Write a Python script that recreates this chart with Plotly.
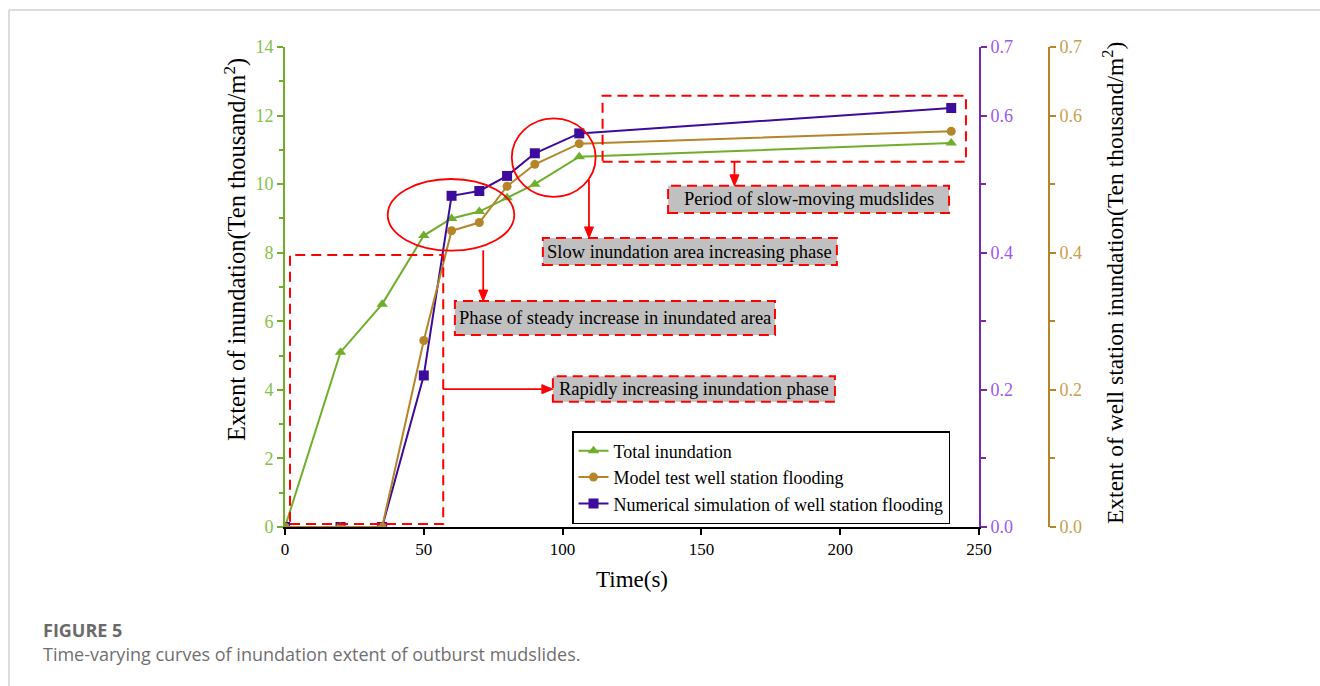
import plotly.graph_objects as go

# ---------------- data ----------------
time_total = [0, 20, 35, 50, 60, 70, 80, 90, 106, 240]
total_inundation = [0, 5.1, 6.5, 8.5, 9.0, 9.2, 9.6, 10.0, 10.8, 11.2]

time_station = [0, 20, 35, 50, 60, 70, 80, 90, 106, 240]
model_test = [0, 0, 0, 0.272, 0.432, 0.444, 0.497, 0.529, 0.559, 0.577]
numerical_sim = [0, 0, 0, 0.221, 0.483, 0.490, 0.512, 0.545, 0.574, 0.611]

series_names = ["Total inundation", "Model test well station flooding",
                "Numerical simulation of well station flooding"]
phase_labels = ["Phase of steady increase in inundated area",
                "Rapidly increasing inundation phase",
                "Slow inundation area increasing phase",
                "Period of slow-moving mudslides"]
right_tickvals = [0, 0.2, 0.4, 0.6, 0.7]
right_ticktext = ["0.0", "0.2", "0.4", "0.6", "0.7"]

# ---------------- styles ----------------
W, H = 1320, 686
GREEN = "#6fae2a"
GREEN_TXT = "#86c04a"
GOLD = "#b5852a"
GOLD_TXT = "#c9a04c"
PURPLE_LINE = "#3c0c9c"
PURPLE_AX = "#7a2aa8"
PURPLE_TXT = "#9a58f2"
RED = "#ff0000"
SERIF = "Liberation Serif, Times New Roman, serif"

fig = go.Figure()
fig.add_trace(go.Scatter(x=time_total, y=total_inundation, name=series_names[0],
                         mode="lines+markers", yaxis="y",
                         line=dict(color=GREEN, width=2),
                         marker=dict(symbol="triangle-up", size=10, color=GREEN)))
fig.add_trace(go.Scatter(x=time_station, y=model_test, name=series_names[1],
                         mode="lines+markers", yaxis="y3",
                         line=dict(color=GOLD, width=2),
                         marker=dict(symbol="circle", size=9, color=GOLD)))
fig.add_trace(go.Scatter(x=time_station, y=numerical_sim, name=series_names[2],
                         mode="lines+markers", yaxis="y2",
                         line=dict(color=PURPLE_LINE, width=2),
                         marker=dict(symbol="square", size=10, color=PURPLE_LINE)))

x0p, x1p = 285 / W, 979 / W
y0p, y1p = (H - 527) / H, (H - 47) / H
PX_X = (979 - 285) / 250.0   # pixels per x unit
PX_Y = (527 - 47) / 14.0     # pixels per left-y unit

fig.update_layout(
    width=W, height=H,
    margin=dict(l=0, r=0, t=0, b=0, autoexpand=False),
    paper_bgcolor="white", plot_bgcolor="white",
    font=dict(family=SERIF, color="black"),
    xaxis=dict(domain=[x0p, x1p], range=[0, 250], dtick=50, showgrid=False, zeroline=False,
               automargin=False,
               showline=True, linecolor="black", linewidth=2,
               ticks="outside", ticklen=6, tickwidth=2, tickcolor="black",
               tickfont=dict(size=17, color="black", family=SERIF),
               title=dict(text="Time(s)", font=dict(size=23, family=SERIF), standoff=12)),
    yaxis=dict(domain=[y0p, y1p], range=[0, 14], dtick=2, showgrid=False, zeroline=False,
               automargin=False,
               showline=True, linecolor=GREEN, linewidth=2,
               ticks="outside", ticklen=6, tickwidth=2, tickcolor=GREEN,
               minor=dict(dtick=1, ticks="outside", ticklen=4, tickwidth=2, tickcolor=GREEN),
               tickfont=dict(size=18, color=GREEN_TXT, family=SERIF)),
    yaxis2=dict(overlaying="y", anchor="x", side="right", range=[0, 0.7],
                automargin=False,
                tickvals=right_tickvals, ticktext=right_ticktext,
                showgrid=False, zeroline=False, showline=True, linecolor=PURPLE_AX, linewidth=2,
                ticks="outside", ticklen=6, tickwidth=2, tickcolor=PURPLE_AX,
                minor=dict(tickvals=[0.1, 0.3, 0.5], ticks="outside", ticklen=5,
                           tickwidth=2, tickcolor=PURPLE_AX),
                tickfont=dict(size=18, color=PURPLE_TXT, family=SERIF)),
    yaxis3=dict(overlaying="y", anchor="free", position=1049 / W, side="right", range=[0, 0.7],
                automargin=False,
                tickvals=right_tickvals, ticktext=right_ticktext,
                showgrid=False, zeroline=False, showline=True, linecolor=GOLD, linewidth=2,
                ticks="outside", ticklen=6, tickwidth=2, tickcolor=GOLD,
                minor=dict(tickvals=[0.1, 0.3, 0.5], ticks="outside", ticklen=5,
                           tickwidth=2, tickcolor=GOLD),
                tickfont=dict(size=18, color=GOLD_TXT, family=SERIF)),
    legend=dict(x=572 / W, y=(H - 431) / H, xanchor="left", yanchor="top",
                bgcolor="white", bordercolor="black", borderwidth=1.5,
                font=dict(size=18, family=SERIF, color="black"),
                tracegroupgap=0),
    showlegend=True,
)

DASH = "10px,6px"
shapes = []
# dashed region rectangles
shapes.append(dict(type="rect", xref="x", yref="y", x0=1.8, x1=57.0, y0=0.09, y1=7.93,
                   line=dict(color=RED, width=2, dash=DASH)))
shapes.append(dict(type="rect", xref="x", yref="y", x0=114.4, x1=245.3, y0=10.65, y1=12.58,
                   line=dict(color=RED, width=2, dash=DASH)))
# ellipses
shapes.append(dict(type="circle", xref="x", yref="y", x0=37.0, x1=82.6, y0=8.06, y1=10.15,
                   line=dict(color=RED, width=1.8)))
shapes.append(dict(type="circle", xref="x", yref="y", x0=81.7, x1=111.9, y0=9.63, y1=11.92,
                   line=dict(color=RED, width=1.8)))
# label boxes (x0, x1, y0, y1)
boxes = [(61.2, 176.5, 5.60, 6.59),
         (96.5, 198.1, 3.65, 4.40),
         (92.9, 198.8, 7.64, 8.43),
         (138.0, 239.2, 9.16, 9.95)]
for (bx0, bx1, by0, by1) in boxes:
    shapes.append(dict(type="rect", xref="x", yref="y", x0=bx0, x1=bx1, y0=by0, y1=by1,
                       fillcolor="#c0c0c0", line=dict(color=RED, width=2, dash=DASH)))

# arrows: (tip_x, tip_y, tail_x, tail_y)
arrows = [(71.4, 6.59, 71.4, 8.07),
          (109.5, 8.43, 109.5, 10.12),
          (161.9, 9.95, 161.9, 10.65),
          (96.5, 4.02, 57.0, 4.02)]
HEAD_L, HEAD_W = 11.0, 4.5  # pixels
for (tx, ty, sx, sy) in arrows:
    if tx == sx:  # vertical (downward)
        dy = HEAD_L / PX_Y
        hw = HEAD_W / PX_X
        base_y = ty + dy
        shapes.append(dict(type="line", xref="x", yref="y", x0=sx, y0=sy, x1=tx, y1=base_y,
                           line=dict(color=RED, width=1.8)))
        path = f"M {tx},{ty} L {tx - hw},{base_y} L {tx + hw},{base_y} Z"
    else:  # horizontal (rightward)
        dx = HEAD_L / PX_X
        hh = HEAD_W / PX_Y
        base_x = tx - dx
        shapes.append(dict(type="line", xref="x", yref="y", x0=sx, y0=sy, x1=base_x, y1=ty,
                           line=dict(color=RED, width=1.8)))
        path = f"M {tx},{ty} L {base_x},{ty - hh} L {base_x},{ty + hh} Z"
    shapes.append(dict(type="path", xref="x", yref="y", path=path,
                       fillcolor=RED, line=dict(color=RED, width=1)))

# page frame lines
shapes.append(dict(type="line", xref="paper", yref="paper", x0=9 / W, x1=1, y0=1 - 10 / H, y1=1 - 10 / H,
                   line=dict(color="#d0d0d0", width=1.5)))
shapes.append(dict(type="line", xref="paper", yref="paper", x0=9 / W, x1=9 / W, y0=0, y1=1 - 10 / H,
                   line=dict(color="#d0d0d0", width=1.5)))

annotations = []
for (bx0, bx1, by0, by1), txt in zip(boxes, phase_labels):
    annotations.append(dict(x=(bx0 + bx1) / 2, y=(by0 + by1) / 2, xref="x", yref="y",
                            text=txt, showarrow=False,
                            font=dict(size=18.5, family=SERIF, color="black")))
# axis titles (placed as in the reference)
annotations.append(dict(x=236 / W, y=(H - 250) / H, xref="paper", yref="paper",
                        xanchor="center", yanchor="middle", textangle=-90, showarrow=False,
                        text="Extent of inundation(Ten thousand/m<sup>2</sup>)",
                        font=dict(size=24.5, family=SERIF, color="black")))
annotations.append(dict(x=1113 / W, y=(H - 283) / H, xref="paper", yref="paper",
                        xanchor="center", yanchor="middle", textangle=-90, showarrow=False,
                        text="Extent of well station inundation(Ten thousand/m<sup>2</sup>)",
                        font=dict(size=23.5, family=SERIF, color="black")))
# caption
annotations.append(dict(x=41 / W, y=(H - 630) / H, xref="paper", yref="paper", xanchor="left",
                        yanchor="middle", showarrow=False, text="<b>FIGURE 5</b>",
                        font=dict(size=18, family="Open Sans, sans-serif", color="#6a6a6a")))
annotations.append(dict(x=41 / W, y=(H - 654) / H, xref="paper", yref="paper", xanchor="left",
                        yanchor="middle", showarrow=False,
                        text="Time-varying curves of inundation extent of outburst mudslides.",
                        font=dict(size=18, family="Open Sans, sans-serif", color="#707070")))

fig.update_layout(shapes=shapes, annotations=annotations)
fig.write_html("out.html",
               config={"displayModeBar": False},
               post_script="document.body.style.margin='0px';"
                           "document.body.style.overflow='hidden';")
